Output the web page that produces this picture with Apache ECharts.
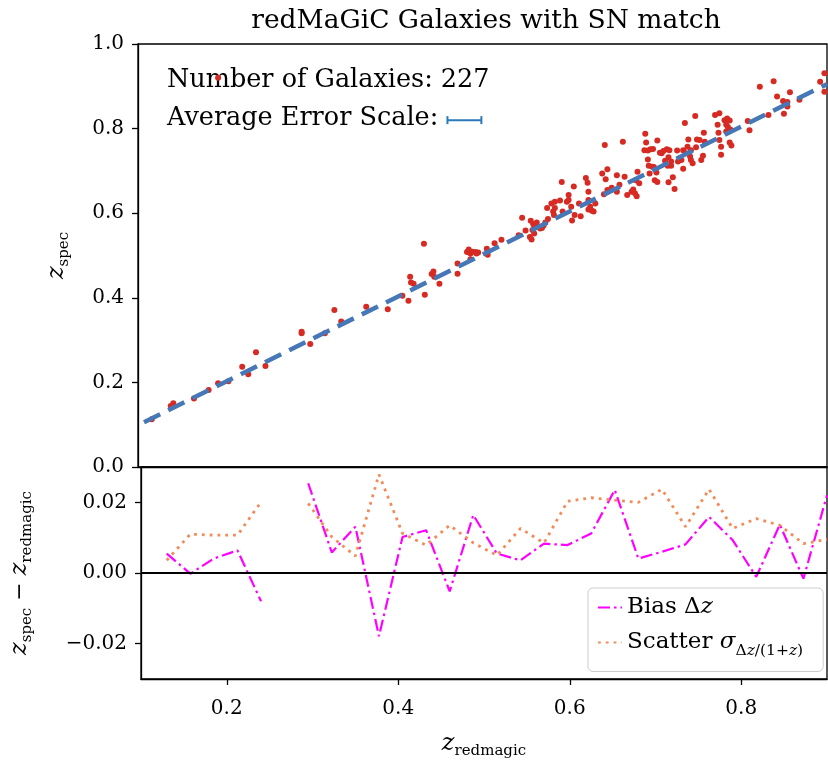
<!DOCTYPE html>
<html><head><meta charset="utf-8">
<script src="https://cdn.jsdelivr.net/npm/echarts@6/dist/echarts.min.js"></script>
<style>html,body{margin:0;padding:0;background:#fff}#c{width:828px;height:762px}</style>
</head><body><div id="c"></div>
<script>
// ---- data ----
const zRedmagic = [0.116,0.138,0.141,0.165,0.182,0.193,0.205,0.221,0.228,0.237,0.248,0.290,0.290,0.300,0.317,0.328,0.336,0.365,0.390,0.193,
0.407,0.414,0.416,0.417,0.420,0.432,0.433,0.441,0.443,0.444,0.450,0.471,0.471,0.482,0.484,0.486,0.486,0.488,0.492,0.493,0.495,0.505,0.506,0.514,0.522,0.542,
0.546,0.550,0.555,0.556,0.557,0.558,0.559,0.560,0.561,0.563,0.567,0.569,0.571,0.573,0.575,0.576,0.580,0.582,0.584,0.583,0.584,
0.590,0.592,0.593,0.598,0.600,0.600,0.603,0.604,0.606,0.607,0.612,0.614,0.620,0.622,0.623,0.623,0.625,0.623,0.627,0.629,0.631,0.639,0.641,0.642,0.643,0.645,0.645,0.650,0.656,0.656,0.659,0.663,0.665,0.668,0.673,0.675,0.677,0.679,0.678,0.680,0.682,
0.688,0.689,0.690,0.692,0.692,0.693,0.694,0.695,0.697,0.698,0.699,0.700,0.702,0.703,0.703,0.706,0.708,0.710,0.712,0.714,0.715,0.716,0.716,0.717,0.719,0.719,0.721,0.723,0.726,0.727,0.729,0.731,0.733,0.733,0.735,0.736,0.738,0.739,0.741,0.742,0.742,0.744,0.747,0.748,0.749,0.752,0.754,0.756,0.757,0.758,
0.770,0.773,0.774,0.775,0.775,0.777,0.777,0.781,0.783,0.783,0.784,0.785,0.787,0.787,0.788,0.789,0.808,0.810,
0.822,0.832,0.838,0.842,0.849,0.850,0.851,0.854,0.854,0.857,0.868,0.892,0.897,0.897];
const zSpec = [0.113,0.144,0.151,0.162,0.182,0.198,0.203,0.237,0.219,0.271,0.239,0.320,0.316,0.291,0.316,0.371,0.344,0.379,0.373,0.920,
0.405,0.393,0.450,0.436,0.433,0.528,0.407,0.456,0.462,0.450,0.433,0.481,0.457,0.508,0.514,0.505,0.491,0.509,0.508,0.505,0.507,0.516,0.502,0.529,0.537,0.548,
0.589,0.559,0.544,0.582,0.538,0.560,0.574,0.552,0.568,0.578,0.564,0.565,0.571,0.578,0.612,0.586,0.623,0.604,0.627,0.596,0.612,
0.630,0.674,0.604,0.627,0.643,0.631,0.615,0.583,0.663,0.596,0.623,0.593,0.683,0.672,0.651,0.631,0.615,0.609,0.606,0.604,0.623,0.694,0.645,0.761,0.680,0.704,0.655,0.660,0.690,0.651,0.667,0.769,0.686,0.643,0.651,0.656,0.647,0.640,0.678,0.698,0.671,
0.749,0.788,0.767,0.748,0.727,0.712,0.694,0.751,0.710,0.752,0.709,0.678,0.696,0.674,0.772,0.743,0.742,0.747,0.724,0.751,0.712,0.732,0.673,0.749,0.712,0.722,0.685,0.657,0.748,0.722,0.730,0.726,0.749,0.705,0.813,0.742,0.757,0.774,0.734,0.749,0.726,0.718,0.830,0.756,0.774,0.773,0.726,0.736,0.790,0.769,
0.832,0.809,0.790,0.836,0.773,0.757,0.738,0.820,0.809,0.793,0.824,0.804,0.819,0.767,0.797,0.760,0.818,0.796,
0.899,0.832,0.912,0.876,0.865,0.835,0.858,0.863,0.852,0.886,0.868,0.911,0.887,0.931];
const fitX = [0.107, 0.900];
const fitY = [0.106, 0.905];
const nGalaxies = 227;
const avgErrHalfWidth = 0.0197;

const binZ = [0.13,0.1575,0.185,0.2125,0.24,0.2675,0.295,0.3225,0.35,0.3775,0.405,0.4325,0.46,0.4875,0.515,0.5425,0.57,0.5975,0.625,0.6525,0.68,0.7075,0.735,0.7625,0.79,0.8175,0.845,0.8725,0.9];
const biasDz = [0.0055,-0.0002,0.0041,0.0064,-0.0080,null,0.0254,0.0058,0.0131,-0.0179,0.0102,0.0121,-0.0052,0.0164,0.0055,0.0036,0.0083,0.0079,0.0112,0.0235,0.0041,0.0060,0.0081,0.0159,0.0093,-0.0011,0.0137,-0.0016,0.0220];
const scatterSigma = [0.0036,0.0110,0.0107,0.0107,0.0201,null,0.0197,0.0102,0.0048,0.0279,0.0112,0.0079,0.0135,0.0085,0.0050,0.0126,0.0085,0.0203,0.0213,0.0206,0.0200,0.0237,0.0131,0.0237,0.0126,0.0154,0.0135,0.0083,0.0095];

const topYTicks = [0, 0.2, 0.4, 0.6, 0.8, 1.0];
const xTicks = [0.2, 0.4, 0.6, 0.8];
const bottomYTicks = [-0.02, 0, 0.02];

// ---- chart ----
const FONT = 'DejaVu Serif';
const chart = echarts.init(document.getElementById('c'), null, {renderer: 'canvas'});
const subRich = {
  i: {fontFamily: FONT, fontSize: 24, fontStyle: 'italic', color: '#000', lineHeight: 30, verticalAlign: 'middle'},
  s: {fontFamily: FONT, fontSize: 15, color: '#000', lineHeight: 14, verticalAlign: 'bottom'},
  n: {fontFamily: FONT, fontSize: 22, color: '#000', lineHeight: 30, verticalAlign: 'middle'}
};
const pts = zRedmagic.map((x, k) => [x, zSpec[k]]);
const fitLine = fitX.map((x, k) => [x, fitY[k]]);
const biasLine = binZ.map((x, k) => [x, biasDz[k]]);
const scatLine = binZ.map((x, k) => [x, scatterSigma[k]]);
const tickFmt1 = v => v.toFixed(1);
const tickFmt2 = v => (v < 0 ? '\u2212' : '') + Math.abs(v).toFixed(2);

const axisCommon = {
  axisLine: {show: true, onZero: false, lineStyle: {color: '#000', width: 1.3}},
  axisTick: {show: true, inside: false, length: 6, lineStyle: {color: '#000', width: 1.3}},
  splitLine: {show: false},
  axisLabel: {color: '#000', fontFamily: FONT, fontSize: 20}
};

const option = {
  animation: false,
  backgroundColor: '#fff',
  title: {
    text: 'redMaGiC Galaxies with SN match',
    left: 481, top: 3, textAlign: 'center',
    textStyle: {fontFamily: FONT, fontSize: 26.5, fontWeight: 'normal', color: '#000'}
  },
  grid: [
    {left: 138, top: 44, width: 689, height: 423, show: true, borderColor: '#000', borderWidth: 1.3, backgroundColor: 'transparent'},
    {left: 138, top: 467, width: 689, height: 212, show: true, borderColor: '#000', borderWidth: 1.3, backgroundColor: 'transparent'}
  ],
  xAxis: [
    Object.assign({}, axisCommon, {type: 'value', gridIndex: 0, min: 0.1, max: 0.9,
      axisTick: {show: false}, axisLabel: {show: false}}),
    Object.assign({}, axisCommon, {type: 'value', gridIndex: 1, min: 0.1, max: 0.9,
      axisTick: Object.assign({}, axisCommon.axisTick, {customValues: xTicks}),
      axisLabel: Object.assign({}, axisCommon.axisLabel, {customValues: xTicks, formatter: tickFmt1, margin: 20}),
      name: '{i|z}{s|redmagic}', nameLocation: 'middle', nameGap: 50,
      nameTextStyle: {rich: subRich}})
  ],
  yAxis: [
    Object.assign({}, axisCommon, {type: 'value', gridIndex: 0, min: 0, max: 1, interval: 0.2,
      axisTick: Object.assign({}, axisCommon.axisTick, {customValues: topYTicks}),
      axisLabel: Object.assign({}, axisCommon.axisLabel, {customValues: topYTicks, formatter: tickFmt1, margin: 14}),
      name: '{i|z}{s|spec}', nameLocation: 'middle', nameGap: 66, nameRotate: 90,
      nameTextStyle: {rich: subRich}}),
    Object.assign({}, axisCommon, {type: 'value', gridIndex: 1, min: -0.03, max: 0.03,
      axisTick: Object.assign({}, axisCommon.axisTick, {customValues: bottomYTicks}),
      axisLabel: Object.assign({}, axisCommon.axisLabel, {customValues: bottomYTicks, formatter: tickFmt2, margin: 14}),
      name: '{i|z}{s|spec}{n| \u2212 }{i|z}{s|redmagic}', nameLocation: 'middle', nameGap: 106, nameRotate: 90,
      nameTextStyle: {rich: subRich}})
  ],
  legend: {
    orient: 'vertical', left: 588, top: 588,
    data: [{name: 'bias', itemStyle: {opacity: 0}}, {name: 'scatter', itemStyle: {opacity: 0}}],
    backgroundColor: '#fff', borderColor: '#cccccc', borderWidth: 1, borderRadius: 5,
    padding: [8, 20, 13, 9], itemGap: 12, itemWidth: 24, itemHeight: 14,
    formatter: n => n === 'bias' ? '{n|Bias \u0394}{i|z}' : '{n|Scatter }{i|\u03c3}{s|\u0394}{si|z}{s|/(1+}{si|z}{s|)}',
    textStyle: {
      rich: {
        n: {fontFamily: FONT, fontSize: 23, color: '#000', lineHeight: 32, verticalAlign: 'middle'},
        i: {fontFamily: FONT, fontSize: 23, fontStyle: 'italic', color: '#000', lineHeight: 32, verticalAlign: 'middle'},
        s: {fontFamily: FONT, fontSize: 15.5, color: '#000', lineHeight: 19, verticalAlign: 'bottom'},
        si: {fontFamily: FONT, fontSize: 15.5, fontStyle: 'italic', color: '#000', lineHeight: 19, verticalAlign: 'bottom'}
      }
    }
  },
  graphic: [
    {type: 'text', left: 167, top: 67, z: 1, style: {text: 'Number of Galaxies: ' + nGalaxies, font: '25.5px "DejaVu Serif"', fill: '#000'}},
    {type: 'text', left: 167, top: 105, z: 1, style: {text: 'Average Error Scale:', font: '25.5px "DejaVu Serif"', fill: '#000'}}
  ],
  series: [
    {type: 'scatter', name: 'galaxies', xAxisIndex: 0, yAxisIndex: 0, data: pts,
      symbol: 'circle', symbolSize: 6, itemStyle: {color: '#d62a22', opacity: 1}, z: 4},
    {type: 'line', name: 'fit', xAxisIndex: 0, yAxisIndex: 0, data: fitLine, symbol: 'none',
      lineStyle: {color: '#4677b6', width: 4.5, type: [18, 9]}, z: 5},
    {type: 'custom', name: 'avgerr', xAxisIndex: 0, yAxisIndex: 0,
      data: [[0.479, 0.820, avgErrHalfWidth]],
      renderItem: (params, api) => {
        const a = api.coord([api.value(0) - api.value(2), api.value(1)]);
        const b = api.coord([api.value(0) + api.value(2), api.value(1)]);
        const st = {stroke: '#2a7ab9', lineWidth: 2};
        return {type: 'group', children: [
          {type: 'line', shape: {x1: a[0], y1: a[1], x2: b[0], y2: b[1]}, style: st},
          {type: 'line', shape: {x1: a[0], y1: a[1] - 4, x2: a[0], y2: a[1] + 4}, style: st},
          {type: 'line', shape: {x1: b[0], y1: b[1] - 4, x2: b[0], y2: b[1] + 4}, style: st}
        ]};
      }, z: 5},
    {type: 'line', name: 'bias', xAxisIndex: 1, yAxisIndex: 1, data: biasLine, symbol: 'none',
      connectNulls: false, lineStyle: {color: '#ff00ff', width: 2.2, type: [12, 4, 2.5, 4]}, itemStyle: {color: '#ff00ff'},
      markLine: {silent: true, symbol: 'none', label: {show: false},
        lineStyle: {color: '#000', width: 2, type: 'solid'}, data: [{yAxis: 0}]}, z: 3},
    {type: 'line', name: 'scatter', xAxisIndex: 1, yAxisIndex: 1, data: scatLine, symbol: 'none',
      connectNulls: false, lineStyle: {color: '#f28b58', width: 2.8, type: [2.8, 5]}, itemStyle: {color: '#f28b58'}, z: 3}
  ]
};
chart.setOption(option);
</script>
</body></html>
